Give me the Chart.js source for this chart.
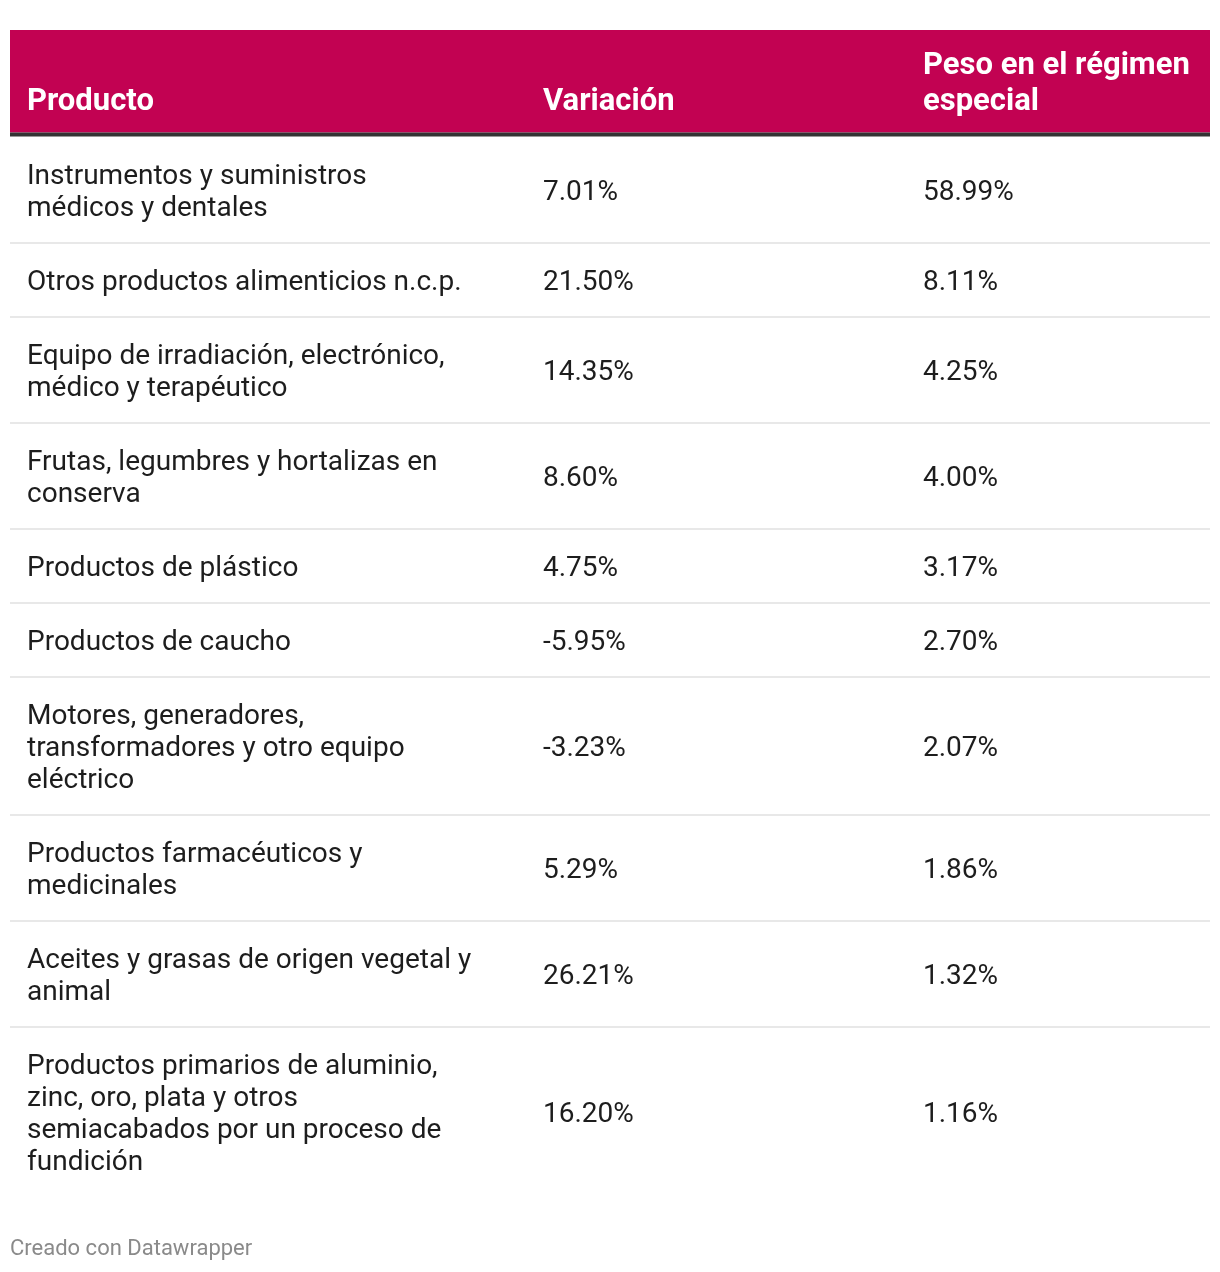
<!DOCTYPE html>
<html><head><meta charset="utf-8">
<script src="https://cdn.jsdelivr.net/npm/chart.js@4/dist/chart.umd.min.js"></script>
<style>html,body{margin:0;padding:0;background:#fff}</style>
</head><body>
<canvas id="c" width="1220" height="1272"></canvas>
<script>
// ---- data ----
const headers = [["Producto"], ["Variación"], ["Peso en el régimen", "especial"]];
const productos = [
  ["Instrumentos y suministros", "médicos y dentales"],
  ["Otros productos alimenticios n.c.p."],
  ["Equipo de irradiación, electrónico,", "médico y terapéutico"],
  ["Frutas, legumbres y hortalizas en", "conserva"],
  ["Productos de plástico"],
  ["Productos de caucho"],
  ["Motores, generadores,", "transformadores y otro equipo", "eléctrico"],
  ["Productos farmacéuticos y", "medicinales"],
  ["Aceites y grasas de origen vegetal y", "animal"],
  ["Productos primarios de aluminio,", "zinc, oro, plata y otros", "semiacabados por un proceso de", "fundición"]
];
const variacion = [7.01, 21.50, 14.35, 8.60, 4.75, -5.95, -3.23, 5.29, 26.21, 16.20];
const peso = [58.99, 8.11, 4.25, 4.00, 3.17, 2.70, 2.07, 1.86, 1.32, 1.16];
const fuente = "Creado con Datawrapper";

// ---- layout helpers (row extents in "line" units) ----
const LINE_PX = 32;
const ROW_PAD = 42 / 32;
const bounds = [0];
productos.forEach(p => bounds.push(bounds[bounds.length - 1] + p.length + ROW_PAD));
const centers = productos.map((p, i) => (bounds[i] + bounds[i + 1]) / 2);
const COLS = [17 / 1200, 533 / 1200, 913 / 1200];
const pct = v => [v.toFixed(2) + "%"];

const cellTexts = [productos, variacion.map(pct), peso.map(pct)];

const tablePlugin = {
  id: 'tablePlugin',
  beforeDraw(chart) {
    const { ctx, chartArea: a, scales: { x } } = chart;
    ctx.save();
    ctx.fillStyle = '#ffffff';
    ctx.fillRect(0, 0, chart.width, chart.height);
    ctx.fillStyle = '#c20252';
    ctx.fillRect(a.left, 30, a.right - a.left, a.top - 4 - 30);
    ctx.fillStyle = '#333333';
    ctx.fillRect(a.left, a.top - 4, a.right - a.left, 4);
    ctx.fillStyle = '#ffffff';
    ctx.font = 'bold 31px Roboto';
    ctx.textAlign = 'left';
    ctx.textBaseline = 'alphabetic';
    headers.forEach((lines, c) => {
      const px = x.getPixelForValue(COLS[c]);
      const n = lines.length;
      lines.forEach((l, k) => {
        ctx.fillText(l, px, a.top - 26.5 - (n - 1 - k) * 36);
      });
    });
    ctx.restore();
  },
  afterDatasetsDraw(chart) {
    const { ctx } = chart;
    ctx.save();
    ctx.fillStyle = '#1d1d1d';
    ctx.font = '28px Roboto';
    ctx.textAlign = 'left';
    ctx.textBaseline = 'alphabetic';
    chart.data.datasets.forEach((ds, d) => {
      const meta = chart.getDatasetMeta(d);
      meta.data.forEach((pt, j) => {
        const lines = cellTexts[d][j];
        const n = lines.length;
        lines.forEach((l, k) => ctx.fillText(l, pt.x, pt.y + 10.5 + (k - (n - 1) / 2) * LINE_PX));
      });
    });
    ctx.restore();
  },
  afterDraw(chart) {
    const { ctx } = chart;
    ctx.save();
    ctx.fillStyle = '#8a8a8a';
    ctx.font = '22px Roboto';
    ctx.textAlign = 'left';
    ctx.textBaseline = 'alphabetic';
    ctx.fillText(fuente, 10, 1255);
    ctx.restore();
  }
};

new Chart(document.getElementById('c'), {
  type: 'scatter',
  data: {
    datasets: [
      { label: 'Producto', data: productos.map((p, i) => ({ x: COLS[0], y: centers[i] })) },
      { label: 'Variación', data: variacion.map((v, i) => ({ x: COLS[1], y: centers[i] })) },
      { label: 'Peso en el régimen especial', data: peso.map((v, i) => ({ x: COLS[2], y: centers[i] })) }
    ]
  },
  options: {
    responsive: false,
    animation: false,
    events: [],
    layout: { padding: { top: 136.5, left: 10, right: 10, bottom: 1272 - 1196.5 } },
    elements: { point: { radius: 0, hoverRadius: 0 } },
    plugins: { legend: { display: false }, tooltip: { enabled: false } },
    scales: {
      x: { type: 'linear', min: 0, max: 1, display: false },
      y: {
        type: 'linear', reverse: true, min: 0, max: bounds[bounds.length - 1],
        afterBuildTicks: s => { s.ticks = bounds.slice(1, -1).map(v => ({ value: v })); },
        grid: { color: '#e8e8e8', lineWidth: 2, drawTicks: false },
        ticks: { display: false },
        border: { display: false }
      }
    }
  },
  plugins: [tablePlugin]
});
</script>
</body></html>
